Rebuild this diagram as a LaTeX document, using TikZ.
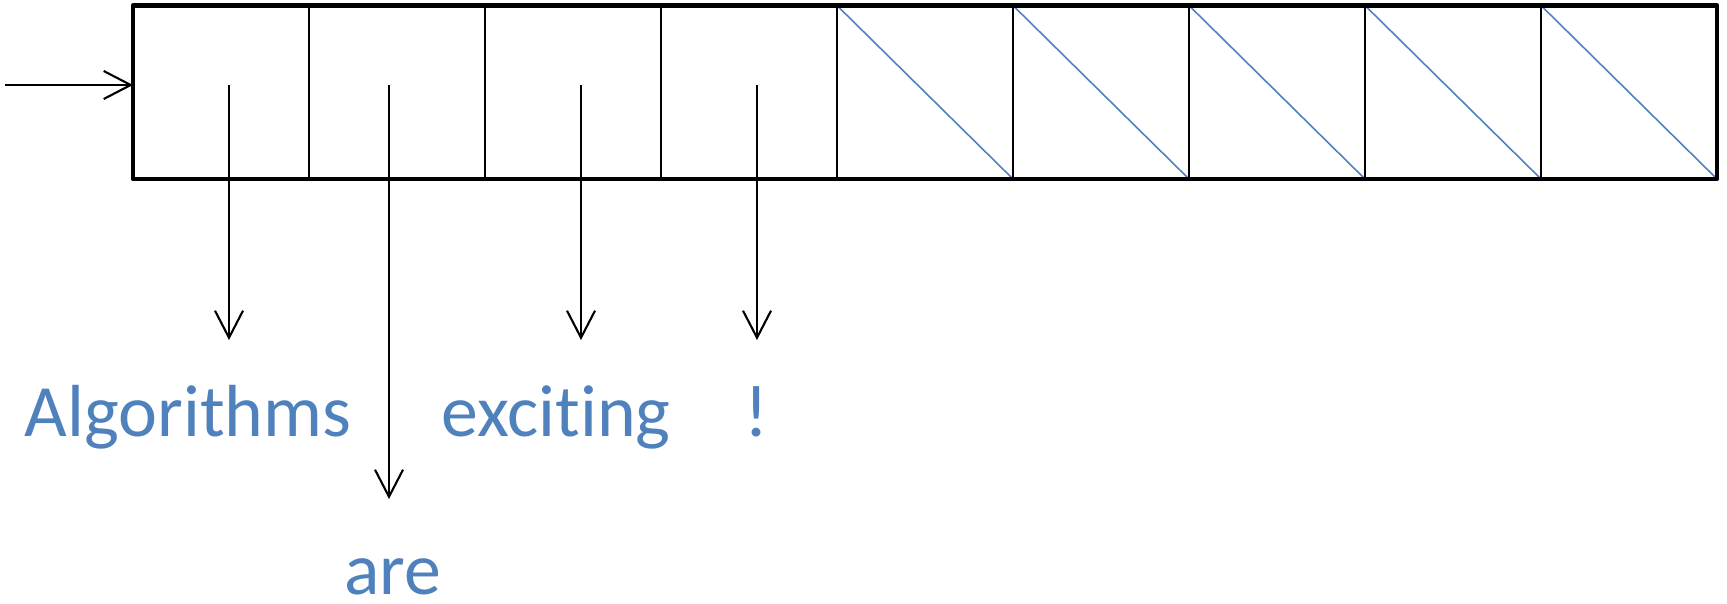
\documentclass[tikz,border=0pt]{standalone}
\usepackage{fontspec}
\setmainfont{Carlito}[Ligatures=NoCommon]
\usetikzlibrary{arrows.meta}
\definecolor{wordblue}{HTML}{4F81BD}

\begin{document}
\begin{tikzpicture}
   \tikzstyle{cell}=[draw, line width=1.1pt, inner sep=0, outer sep=0, minimum width=3.52cm, minimum height=3.47cm]
   \tikzstyle{border}=[line width=2.7pt, line join=round]
   \tikzstyle{empty}=[draw=wordblue, line width=0.9pt]
   \tikzstyle{ptr}=[line width=1.2pt, -{Straight Barb[length=0.54cm, width=0.56cm, line width=1.2pt]}]
   \tikzstyle{word}=[text=wordblue, inner sep=0, anchor=base, font=\fontsize{42}{50}\selectfont]

   \useasboundingbox (0,0) rectangle (34.54,-12.06);

\foreach \i in {1,...,9}
    \node[cell] (c\i) at ({0.9+3.52*\i},-1.845) {};
\foreach \i in {5,...,9}
    \draw[empty] (c\i.north west) -- (c\i.south east);
\draw[border] (c1.north west) rectangle (c9.south east);

\coordinate (in) at (0.1,-1.7);
\draw[ptr] (in) -- (in -| c1.west);

\coordinate (p1) at (4.58,-1.7);
\coordinate (p2) at (7.78,-1.7);
\coordinate (p3) at (11.62,-1.7);
\coordinate (p4) at (15.14,-1.7);
\coordinate (t1) at (4.58,-6.8);
\coordinate (t2) at (7.78,-9.98);
\coordinate (t3) at (11.62,-6.8);
\coordinate (t4) at (15.14,-6.8);
\foreach \i in {1,...,4}
    \draw[ptr] (p\i) -- (t\i);

\node[word] (w1) at (3.76,-8.72) {Algorithms};
\node[word] (w2) at (7.86,-11.88) {are};
\node[word] (w3) at (11.12,-8.72) {exciting};
\node[word] (w4) at (15.14,-8.72) {!};

\end{tikzpicture}
\end{document}
